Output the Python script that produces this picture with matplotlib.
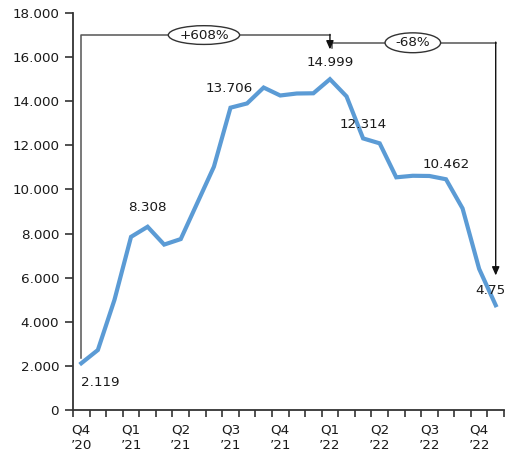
import matplotlib
matplotlib.use("Agg")
import matplotlib.pyplot as plt
from matplotlib.patches import Ellipse

values = [2119, 2720, 4990, 7850, 8308, 7500, 7750, 9390, 11030, 13706,
          13900, 14620, 14260, 14350, 14360, 14999, 14220, 12314, 12090,
          10550, 10620, 10610, 10462, 9140, 6400, 4750]
tick_idx = [0, 3, 6, 9, 12, 15, 18, 21, 24]
tick_labels = ["Q4\n\u201920", "Q1\n\u201921", "Q2\n\u201921", "Q3\n\u201921",
               "Q4\n\u201921", "Q1\n\u201922", "Q2\n\u201922", "Q3\n\u201922",
               "Q4\n\u201922"]
yticks = [0, 2000, 4000, 6000, 8000, 10000, 12000, 14000, 16000, 18000]
ytick_labels = ["0", "2.000", "4.000", "6.000", "8.000", "10.000", "12.000",
                "14.000", "16.000", "18.000"]
point_labels = [(0, "2.119"), (4, "8.308"), (9, "13.706"), (15, "14.999"),
                (17, "12.314"), (22, "10.462"), (25, "4.75")]

plt.rcParams['font.family'] = ['DejaVu Sans']
fs = 9.7
tc = "#1a1a1a"
fig = plt.figure(figsize=(5.05, 4.59), dpi=100)
ax = fig.add_axes([73/505, 1-410/459, 431/505, 397/459])

x = list(range(len(values)))
ax.plot(x, values, color="#5b9bd5", lw=3.0, solid_joinstyle="miter", zorder=3, clip_on=False)

ax.set_xlim(-0.5, len(values) - 0.5)
ax.set_ylim(0, 18000)
ax.set_yticks(yticks)
ax.set_yticklabels(ytick_labels, fontsize=fs, color=tc)
ax.set_xticks(tick_idx)
ax.set_xticklabels(tick_labels, fontsize=fs, color=tc, linespacing=1.2)
ax.set_xticks([i - 0.5 for i in range(len(values) + 1)], minor=True)
ax.tick_params(axis="x", which="major", length=0, pad=10)
ax.tick_params(axis="x", which="minor", length=5, width=1.2, color="#333333", direction="out")
ax.tick_params(axis="y", length=6, width=1.2, color="#333333", pad=4)
for s in ["top", "right"]:
    ax.spines[s].set_visible(False)
for s in ["left", "bottom"]:
    ax.spines[s].set_color("#333333")
    ax.spines[s].set_linewidth(1.3)

offsets = {0: (0, -9, "left", "top"), 4: (0, 9, "center", "bottom"),
           9: (-1, 9, "center", "bottom"), 15: (0, 7, "center", "bottom"),
           17: (0, 5, "center", "bottom"), 22: (0, 6, "center", "bottom"),
           25: (-4, 6, "center", "bottom")}
for i, t in point_labels:
    dx, dy, ha, va = offsets[i]
    ax.annotate(t, (i, values[i]), xytext=(dx, dy), textcoords="offset points",
                ha=ha, va=va, fontsize=fs, color=tc, zorder=4)

lc = "#555555"
y1 = 17000
ax.plot([0, 0, 15], [2360, y1, y1], color=lc, lw=1.1, clip_on=False, zorder=2)
ax.annotate("", xy=(15, 16350), xytext=(15, y1 + 30),
            arrowprops=dict(arrowstyle="-|>,head_length=0.5,head_width=0.22", color="#111111", lw=1.0,
                            shrinkA=0, shrinkB=0))
ax.add_patch(Ellipse((7.4, y1), 4.3, 850, facecolor="white", edgecolor="#333333", lw=1.0, zorder=5, clip_on=False))
ax.text(7.4, y1, "+608%", ha="center", va="center", fontsize=fs, color=tc, zorder=6)

y2 = 16650
ax.plot([15.1, 15.1, 25], [16400, y2, y2], color=lc, lw=1.1, clip_on=False, zorder=2)
ax.annotate("", xy=(25, 6100), xytext=(25, y2 + 30),
            arrowprops=dict(arrowstyle="-|>,head_length=0.5,head_width=0.22", color="#111111", lw=1.0,
                            shrinkA=0, shrinkB=0))
ax.add_patch(Ellipse((20.0, y2), 3.35, 900, facecolor="white", edgecolor="#333333", lw=1.0, zorder=5, clip_on=False))
ax.text(20.0, y2, "-68%", ha="center", va="center", fontsize=fs, color=tc, zorder=6)

fig.savefig("out.png", dpi=100)
